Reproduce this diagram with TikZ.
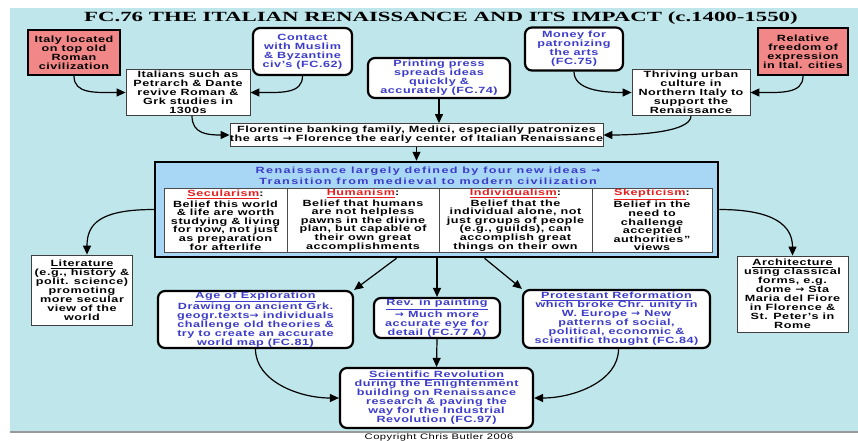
\documentclass[tikz,border=0pt]{standalone}
\usepackage{fontspec}
\setmainfont{Liberation Sans}[FakeStretch=1.4,LetterSpace=6]
\newfontfamily\widefont{Liberation Sans}[FakeStretch=1.4,LetterSpace=15]
\newfontfamily\titlefont{Liberation Serif}[FakeStretch=1.63]
\newfontfamily\arrfont{DejaVu Sans}[FakeStretch=1.2]
\usetikzlibrary{arrows.meta}
\newcommand{\ra}{{\arrfont\bfseries →}}
\definecolor{bgcol}{RGB}{190,230,235}
\definecolor{salmon}{RGB}{242,135,135}
\definecolor{bluetxt}{RGB}{60,60,200}
\definecolor{bigfill}{RGB}{168,214,245}
\definecolor{hdr}{RGB}{230,30,30}
\tikzset{
  txt/.style={font=\bfseries\fontsize{9}{9}\selectfont, align=center, inner sep=0pt},
  plainbox/.style={txt, draw=black!75, line width=0.8pt, fill=white},
  redbox/.style={txt, draw=black, line width=2.2pt, fill=salmon},
  roundbox/.style={txt, draw=black, line width=2.2pt, rounded corners=7pt, fill=white, text=bluetxt},
  cellbox/.style={txt, font=\bfseries\fontsize{9}{8.6}\selectfont, draw=black!70, line width=0.8pt, fill=white},
  arr/.style={line width=1.2pt, -{Triangle[length=9pt,width=8pt]}},
}
\begin{document}
\begin{tikzpicture}[x=1pt,y=-1pt]
\clip (0,0) rectangle (858,440);
\fill[white] (0,0) rectangle (858,440);
\fill[bgcol] (10,8) rectangle (858,431);
\fill[black!40] (10,431) rectangle (858,433);

\node[font=\titlefont\bfseries\fontsize{14}{14}\selectfont] (title) at (441,18) {FC.76 THE ITALIAN RENAISSANCE AND ITS IMPACT (c.1400-1550)};

\node[redbox, minimum width=92pt, minimum height=45pt] (italy) at (74,52.5) {Italy located\\on top old\\Roman\\civilization};
\node[roundbox, minimum width=99pt, minimum height=47pt] (contact) at (302.5,51.5) {Contact\\with Muslim\\\& Byzantine\\civ's (FC.62)};
\node[roundbox, minimum width=142pt, minimum height=40pt] (printing) at (439,78) {Printing press\\spreads ideas\\quickly \&\\accurately (FC.74)};
\node[roundbox, minimum width=98pt, minimum height=43pt] (money) at (574,49) {Money for\\patronizing\\the arts\\(FC.75)};
\node[redbox, minimum width=90pt, minimum height=47pt] (relative) at (803,51.5) {Relative\\freedom of\\expression\\in Ital. cities};
\node[plainbox, minimum width=124pt, minimum height=46pt] (italians) at (188,92.5) {Italians such as\\Petrarch \& Dante\\revive Roman \&\\Grk studies in\\1300s};
\node[plainbox, minimum width=118pt, minimum height=46pt] (thriving) at (691,92.5) {Thriving urban\\culture in\\Northern Italy to\\support the\\Renaissance};
\node[plainbox, minimum width=373pt, minimum height=23pt] (florentine) at (416.5,135) {Florentine banking family, Medici, especially patronizes\\the arts \ra{} Florence the early center of Italian Renaissance};

\node[draw=black, line width=2.5pt, fill=bigfill, minimum width=563pt, minimum height=95pt, inner sep=0pt] (big) at (436.5,209.5) {};
\node[txt, text=bluetxt, font=\widefont\bfseries\fontsize{9}{11}\selectfont] (bigtitle) at (428,176) {Renaissance largely defined by four new ideas \ra\\Transition from medieval to modern civilization};
\node[cellbox, minimum width=123pt, minimum height=64pt] (cellA) at (225.5,220) {\textcolor{hdr}{\underline{Secularism}}:\\[1pt]Belief this world\\\& life are worth\\studying \& living\\for now, not just\\as preparation\\for afterlife};
\node[cellbox, minimum width=152pt, minimum height=64pt] (cellB) at (363,220) {\textcolor{hdr}{\underline{Humanism}}:\\[1pt]Belief that humans\\are not helpless\\pawns in the divine\\plan, but capable of\\their own great\\accomplishments};
\node[cellbox, minimum width=153pt, minimum height=64pt] (cellC) at (515.5,220) {\textcolor{hdr}{\underline{Individualism}}:\\[1pt]Belief that the\\individual alone, not\\just groups of people\\(e.g., guilds), can\\accomplish great\\things on their own};
\node[cellbox, minimum width=120pt, minimum height=64pt] (cellD) at (652,220) {\textcolor{hdr}{\underline{Skepticism}}:\\[1pt]Belief in the\\need to\\challenge\\accepted\\authorities''\\views};

\node[plainbox, minimum width=101pt, minimum height=70pt] (literature) at (82,290) {\underline{Literature}\\(e.g., history \&\\polit. science)\\promoting\\more secular\\view of the\\world};
\node[plainbox, minimum width=111pt, minimum height=76pt] (architecture) at (792.5,294) {\underline{Architecture}\\using classical\\forms, e.g.\\dome \ra{} Sta\\Maria del Fiore\\in Florence \&\\St. Peter's in\\Rome};
\node[roundbox, minimum width=195pt, minimum height=57pt] (age) at (255.5,319.5) {\underline{Age of Exploration}\\Drawing on ancient Grk.\\geogr.texts\ra{} individuals\\challenge old theories \&\\try to create an accurate\\world map (FC.81)};
\node[roundbox, minimum width=126pt, minimum height=40pt] (rev) at (437,318) {\underline{Rev. in painting}\\\ra{} Much more\\accurate eye for\\detail (FC.77 A)};
\node[roundbox, minimum width=187pt, minimum height=58pt] (protestant) at (616.5,319) {\underline{Protestant Reformation}\\which broke Chr. unity in\\W. Europe \ra{} New\\patterns of social,\\political, economic \&\\scientific thought (FC.84)};
\node[roundbox, minimum width=193pt, minimum height=60pt] (scientific) at (436.5,398) {\underline{Scientific Revolution}\\during the Enlightenment\\building on Renaissance\\research \& paving the\\way for the Industrial\\Revolution (FC.97)};

\node[font=\fontsize{8}{8}\selectfont, inner sep=0pt] (copyright) at (439,437.5) {Copyright Chris Butler 2006};

% connectors
\draw[arr] (italy.south) .. controls +(0,18) and +(-30,0) .. (italians.west);
\draw[arr] (contact.south) .. controls +(0,18) and +(30,0) .. (italians.east);
\draw[arr] (money.south) .. controls +(0,18) and +(-30,0) .. (thriving.west);
\draw[arr] (relative.south) .. controls +(0,18) and +(30,0) .. (thriving.east);
\draw[arr] ([xshift=4pt]italians.south) .. controls +(0,18) and +(-22,0) .. (florentine.west);
\draw[arr] (thriving.south) .. controls +(0,18) and +(22,0) .. (florentine.east);
\draw[arr] (printing.south) -- (printing.south |- florentine.north);
\draw[arr] (florentine.south) -- (florentine.south |- big.north);
\draw[arr] (big.west) .. controls +(-55,0) and +(0,-30) .. ([xshift=5pt]literature.north);
\draw[arr] (big.east) .. controls +(55,0) and +(0,-30) .. (architecture.north);
\draw[arr] ([xshift=-40pt]big.south) -- (age.north east);
\draw[arr] (rev.north |- big.south) -- (rev.north);
\draw[arr] ([xshift=48pt]big.south) -- (protestant.north west);
\draw[arr] (rev.south) -- (scientific.north);
\draw[arr] (age.south) .. controls +(0,32) and +(-40,0) .. (scientific.west);
\draw[arr] ([xshift=2pt]protestant.south) .. controls +(0,32) and +(40,0) .. (scientific.east);
\end{tikzpicture}
\end{document}
